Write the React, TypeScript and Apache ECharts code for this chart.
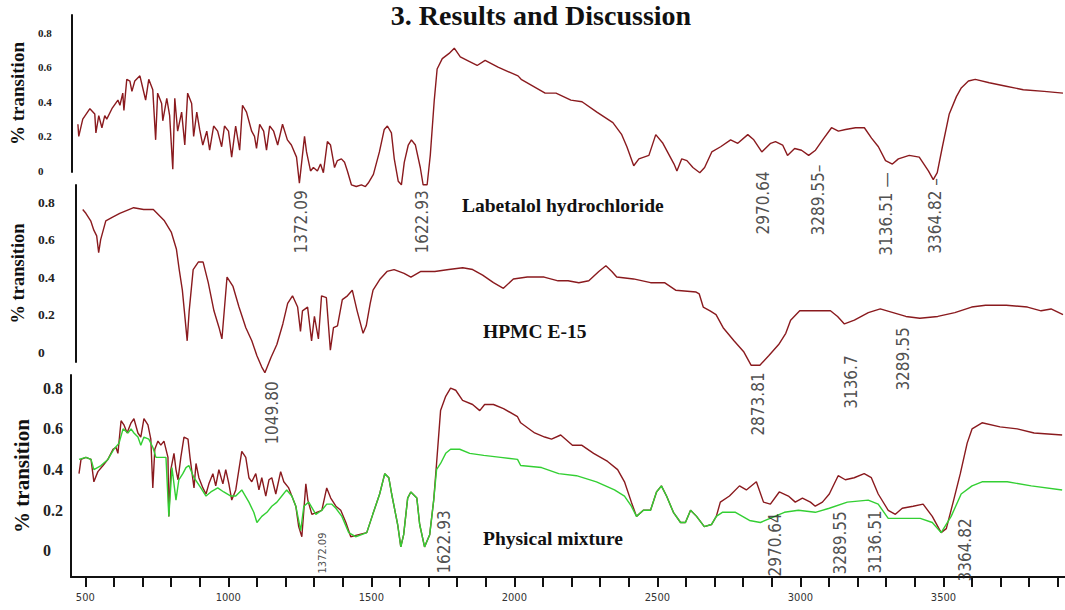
import React, { useEffect, useRef } from "react";
import * as echarts from "echarts";

// ---------- axis ranges & tick labels ----------
const WN_MIN = 450;
const WN_MAX = 3925;
const X_TICKS = [500, 600, 700, 800, 900, 1000, 1100, 1200, 1300, 1400, 1500, 1600, 1700, 1800, 1900, 2000, 2100, 2200, 2300, 2400, 2500, 2600, 2700, 2800, 2900, 3000, 3100, 3200, 3300, 3400, 3500, 3600, 3700, 3800, 3900];
const X_LABELS = [500, 1000, 1500, 2000, 2500, 3000, 3500];
const Y_LABELS = [0, 0.2, 0.4, 0.6, 0.8];
const PANEL_TITLES = ["Labetalol hydrochloride", "HPMC E-15", "Physical mixture"];
const PAGE_TITLE = "3. Results and Discussion";
const Y_NAME = "% transition";

// ---------- spectra: [wavenumber, % transition] ----------
const labetalol: [number, number][] = [
  [471, 0.27], [474, 0.2], [488, 0.3], [513, 0.36], [530, 0.33], [534, 0.22], [544, 0.32], [555, 0.25], [565, 0.32], [572, 0.3],
  [590, 0.36], [611, 0.41], [618, 0.38], [628, 0.45], [632, 0.35], [642, 0.53], [653, 0.52], [660, 0.46], [670, 0.52], [688, 0.55],
  [698, 0.48], [708, 0.41], [719, 0.53], [733, 0.47], [743, 0.18], [750, 0.45], [764, 0.39], [768, 0.29], [782, 0.42], [792, 0.32],
  [803, 0.01], [810, 0.42], [820, 0.23], [834, 0.34], [845, 0.15], [855, 0.45], [869, 0.39], [876, 0.2], [887, 0.34], [897, 0.24],
  [908, 0.15], [922, 0.23], [932, 0.12], [946, 0.26], [960, 0.23], [974, 0.14], [984, 0.26], [998, 0.23], [1009, 0.08], [1023, 0.26],
  [1037, 0.12], [1047, 0.38], [1061, 0.34], [1079, 0.23], [1089, 0.2], [1096, 0.13], [1107, 0.27], [1121, 0.23], [1131, 0.12], [1142, 0.26],
  [1156, 0.23], [1170, 0.15], [1187, 0.27], [1204, 0.18], [1218, 0.15], [1236, 0.08], [1246, -0.07], [1264, 0.2], [1271, 0.11], [1285, 0.0],
  [1295, 0.02], [1309, 0.0], [1320, 0.04], [1330, -0.01], [1344, 0.17], [1355, 0.15], [1369, 0.02], [1379, 0.06], [1393, 0.07], [1404, 0.05],
  [1414, 0.0], [1428, -0.08], [1445, -0.09], [1463, -0.08], [1477, -0.09], [1487, -0.07], [1505, -0.02], [1526, 0.11], [1543, 0.24], [1554, 0.26],
  [1568, 0.22], [1578, 0.07], [1592, -0.06], [1603, -0.08], [1613, 0.05], [1627, 0.15], [1638, 0.18], [1652, 0.15], [1669, 0.02], [1679, -0.08],
  [1693, -0.08], [1704, 0.09], [1718, 0.41], [1728, 0.59], [1746, 0.65], [1770, 0.68], [1788, 0.71], [1809, 0.66], [1833, 0.64], [1868, 0.61],
  [1896, 0.64], [1941, 0.6], [2011, 0.55], [2022, 0.53], [2106, 0.45], [2144, 0.45], [2196, 0.41], [2235, 0.4], [2287, 0.34], [2343, 0.28],
  [2374, 0.21], [2392, 0.14], [2416, 0.03], [2434, 0.07], [2469, 0.09], [2493, 0.21], [2518, 0.16], [2557, 0.04], [2567, 0.0], [2584, 0.07],
  [2602, 0.06], [2623, 0.02], [2647, -0.01], [2664, 0.02], [2689, 0.11], [2720, 0.14], [2755, 0.18], [2780, 0.16], [2815, 0.21], [2836, 0.18],
  [2864, 0.11], [2895, 0.16], [2912, 0.17], [2937, 0.15], [2954, 0.09], [2979, 0.13], [3003, 0.12], [3028, 0.09], [3052, 0.12], [3077, 0.18],
  [3108, 0.25], [3132, 0.23], [3157, 0.24], [3192, 0.25], [3223, 0.25], [3248, 0.19], [3272, 0.14], [3297, 0.06], [3321, 0.04], [3342, 0.07],
  [3380, 0.09], [3415, 0.08], [3447, 0.0], [3464, -0.05], [3478, -0.01], [3496, 0.14], [3520, 0.33], [3545, 0.43], [3562, 0.48], [3587, 0.52],
  [3611, 0.53], [3660, 0.51], [3719, 0.49], [3779, 0.47], [3852, 0.46], [3918, 0.45],
];

const hpmc: [number, number][] = [
  [474, 0.76], [485, 0.74], [502, 0.7], [513, 0.65], [523, 0.62], [530, 0.53], [537, 0.6], [555, 0.7], [579, 0.72], [604, 0.74],
  [653, 0.77], [688, 0.76], [722, 0.76], [761, 0.7], [785, 0.64], [803, 0.55], [813, 0.44], [824, 0.33], [831, 0.22], [841, 0.06],
  [848, 0.22], [862, 0.44], [880, 0.48], [897, 0.48], [915, 0.37], [935, 0.22], [953, 0.13], [963, 0.07], [981, 0.4], [1002, 0.35],
  [1023, 0.24], [1047, 0.13], [1068, 0.06], [1086, -0.02], [1103, -0.08], [1114, -0.11], [1135, -0.03], [1156, 0.04], [1177, 0.15], [1194, 0.26],
  [1211, 0.3], [1229, 0.24], [1239, 0.11], [1246, 0.22], [1264, 0.24], [1278, 0.06], [1288, 0.19], [1302, 0.07], [1313, 0.3], [1330, 0.29],
  [1344, 0.01], [1355, 0.13], [1369, 0.14], [1386, 0.28], [1404, 0.3], [1421, 0.33], [1438, 0.22], [1459, 0.1], [1470, 0.14], [1484, 0.26],
  [1494, 0.33], [1519, 0.39], [1543, 0.43], [1568, 0.44], [1603, 0.42], [1627, 0.4], [1662, 0.43], [1711, 0.43], [1760, 0.44], [1809, 0.45],
  [1844, 0.44], [1879, 0.41], [1917, 0.37], [1952, 0.34], [1987, 0.39], [2036, 0.4], [2095, 0.4], [2144, 0.38], [2179, 0.38], [2217, 0.37],
  [2252, 0.38], [2287, 0.43], [2312, 0.46], [2333, 0.43], [2350, 0.4], [2409, 0.39], [2469, 0.37], [2518, 0.37], [2557, 0.33], [2629, 0.32],
  [2640, 0.31], [2654, 0.24], [2678, 0.22], [2699, 0.2], [2724, 0.13], [2762, 0.06], [2797, 0.0], [2822, -0.07], [2853, -0.07], [2884, -0.02],
  [2919, 0.04], [2944, 0.1], [2961, 0.17], [2993, 0.22], [3052, 0.22], [3101, 0.22], [3126, 0.19], [3150, 0.15], [3185, 0.17], [3234, 0.21],
  [3276, 0.23], [3321, 0.21], [3366, 0.19], [3415, 0.18], [3478, 0.19], [3538, 0.21], [3597, 0.24], [3646, 0.25], [3719, 0.25], [3793, 0.24],
  [3841, 0.22], [3876, 0.23], [3918, 0.2],
];

const mixtureRed: [number, number][] = [
  [478, 0.38], [485, 0.45], [502, 0.46], [520, 0.45], [530, 0.34], [544, 0.39], [562, 0.42], [579, 0.45], [597, 0.5], [607, 0.51],
  [614, 0.48], [625, 0.64], [635, 0.62], [646, 0.58], [660, 0.63], [670, 0.65], [684, 0.58], [694, 0.56], [705, 0.65], [719, 0.62],
  [729, 0.55], [736, 0.31], [743, 0.5], [754, 0.54], [764, 0.52], [775, 0.54], [789, 0.46], [792, 0.17], [799, 0.4], [810, 0.48],
  [817, 0.4], [824, 0.35], [834, 0.46], [845, 0.56], [859, 0.55], [866, 0.46], [880, 0.31], [887, 0.43], [897, 0.36], [911, 0.31],
  [922, 0.28], [932, 0.33], [946, 0.38], [956, 0.32], [967, 0.4], [981, 0.33], [991, 0.4], [1002, 0.33], [1012, 0.25], [1026, 0.3],
  [1037, 0.4], [1047, 0.49], [1061, 0.46], [1072, 0.36], [1082, 0.34], [1096, 0.38], [1107, 0.3], [1117, 0.36], [1131, 0.27], [1142, 0.35],
  [1152, 0.36], [1166, 0.28], [1183, 0.39], [1194, 0.34], [1211, 0.31], [1222, 0.27], [1236, 0.22], [1246, 0.12], [1257, 0.07], [1271, 0.33],
  [1278, 0.25], [1292, 0.18], [1309, 0.19], [1327, 0.2], [1344, 0.31], [1358, 0.26], [1376, 0.22], [1393, 0.2], [1411, 0.14], [1428, 0.07],
  [1456, 0.08], [1484, 0.09], [1505, 0.18], [1529, 0.28], [1547, 0.38], [1561, 0.36], [1571, 0.28], [1592, 0.13], [1603, 0.02], [1613, 0.08],
  [1627, 0.26], [1638, 0.29], [1659, 0.26], [1669, 0.13], [1686, 0.02], [1704, 0.08], [1718, 0.25], [1728, 0.43], [1742, 0.69], [1760, 0.76],
  [1777, 0.8], [1795, 0.79], [1819, 0.74], [1854, 0.72], [1879, 0.69], [1896, 0.72], [1927, 0.72], [1962, 0.7], [2011, 0.66], [2022, 0.63],
  [2071, 0.58], [2106, 0.56], [2130, 0.55], [2162, 0.57], [2203, 0.52], [2235, 0.52], [2277, 0.48], [2326, 0.44], [2361, 0.4], [2385, 0.34],
  [2409, 0.24], [2427, 0.17], [2451, 0.2], [2476, 0.2], [2497, 0.29], [2514, 0.32], [2532, 0.27], [2556, 0.19], [2581, 0.14], [2598, 0.14],
  [2616, 0.2], [2637, 0.17], [2664, 0.12], [2689, 0.13], [2706, 0.17], [2720, 0.24], [2752, 0.27], [2787, 0.32], [2811, 0.3], [2846, 0.34],
  [2871, 0.24], [2895, 0.23], [2926, 0.29], [2958, 0.27], [2982, 0.24], [3007, 0.26], [3035, 0.24], [3052, 0.22], [3077, 0.24], [3101, 0.28],
  [3132, 0.37], [3157, 0.35], [3188, 0.36], [3223, 0.38], [3248, 0.36], [3272, 0.28], [3307, 0.2], [3332, 0.18], [3356, 0.21], [3394, 0.22],
  [3429, 0.23], [3461, 0.17], [3492, 0.09], [3510, 0.11], [3534, 0.24], [3559, 0.38], [3583, 0.53], [3600, 0.6], [3635, 0.63], [3698, 0.61],
  [3758, 0.6], [3817, 0.58], [3915, 0.57],
];

const mixtureGreen: [number, number][] = [
  [478, 0.45], [502, 0.46], [520, 0.45], [530, 0.4], [555, 0.42], [579, 0.45], [600, 0.5], [618, 0.53], [632, 0.6], [649, 0.58],
  [660, 0.6], [670, 0.58], [684, 0.56], [694, 0.52], [705, 0.56], [722, 0.55], [736, 0.51], [747, 0.46], [764, 0.46], [782, 0.46],
  [792, 0.17], [803, 0.41], [817, 0.25], [827, 0.35], [841, 0.38], [852, 0.41], [862, 0.42], [880, 0.36], [904, 0.31], [922, 0.27],
  [939, 0.29], [963, 0.31], [984, 0.29], [1009, 0.27], [1026, 0.27], [1047, 0.3], [1072, 0.24], [1089, 0.19], [1100, 0.14], [1117, 0.17],
  [1135, 0.19], [1152, 0.22], [1170, 0.24], [1187, 0.27], [1204, 0.3], [1222, 0.27], [1236, 0.22], [1253, 0.1], [1264, 0.22], [1281, 0.24],
  [1306, 0.18], [1327, 0.2], [1344, 0.23], [1362, 0.23], [1376, 0.21], [1397, 0.17], [1421, 0.09], [1445, 0.07], [1466, 0.08], [1484, 0.09],
  [1505, 0.18], [1529, 0.28], [1547, 0.38], [1561, 0.36], [1571, 0.28], [1592, 0.13], [1603, 0.02], [1613, 0.08], [1627, 0.26], [1638, 0.29],
  [1659, 0.26], [1669, 0.13], [1686, 0.02], [1704, 0.08], [1718, 0.25], [1728, 0.4], [1742, 0.43], [1760, 0.48], [1777, 0.5], [1809, 0.5],
  [1844, 0.48], [1893, 0.47], [1952, 0.46], [2011, 0.45], [2022, 0.42], [2095, 0.41], [2155, 0.38], [2217, 0.37], [2287, 0.34], [2350, 0.3],
  [2385, 0.27], [2409, 0.22], [2427, 0.17], [2451, 0.2], [2476, 0.2], [2497, 0.29], [2514, 0.32], [2532, 0.27], [2556, 0.19], [2581, 0.14],
  [2598, 0.14], [2616, 0.2], [2637, 0.17], [2664, 0.12], [2689, 0.13], [2706, 0.17], [2727, 0.19], [2773, 0.19], [2822, 0.15], [2860, 0.14],
  [2944, 0.19], [2993, 0.2], [3052, 0.19], [3101, 0.21], [3164, 0.24], [3237, 0.25], [3272, 0.23], [3307, 0.16], [3356, 0.16], [3419, 0.16],
  [3461, 0.14], [3492, 0.09], [3527, 0.17], [3562, 0.28], [3600, 0.32], [3635, 0.34], [3723, 0.34], [3807, 0.32], [3915, 0.3],
];

// ---------- peak annotations (wavenumber / % transition position, text) ----------
type Peak = { wn: number; t: number; text: string; small?: boolean };
const labetalolPeaks: Peak[] = [
  { wn: 1253, t: -0.295, text: "1372.09" },
  { wn: 1676, t: -0.295, text: "1622.93" },
  { wn: 2867, t: -0.185, text: "2970.64" },
  { wn: 3059, t: -0.168, text: "3289.55–" },
  { wn: 3300, t: -0.249, text: "3136.51 —" },
  { wn: 3471, t: -0.26, text: "3364.82 –" },
];
const hpmcPeaks: Peak[] = [
  { wn: 1138, t: -0.325, text: "1049.80" },
  { wn: 2846, t: -0.277, text: "2873.81" },
  { wn: 3174, t: -0.16, text: "3136.7" },
  { wn: 3356, t: -0.037, text: "3289.55" },
];
const mixturePeaks: Peak[] = [
  { wn: 1330, t: -0.01, text: "1372.09", small: true },
  { wn: 1755, t: 0.044, text: "1622.93" },
  { wn: 2912, t: 0.03, text: "2970.64" },
  { wn: 3139, t: 0.04, text: "3289.55" },
  { wn: 3262, t: 0.044, text: "3136.51" },
  { wn: 3576, t: 0.005, text: "3364.82" },
];

// ---------- styling ----------
const SERIF = '"Liberation Serif", "Times New Roman", serif';
const NARROW = '"Liberation Sans Narrow", "Arial Narrow", "DejaVu Sans Condensed", "Liberation Sans", sans-serif';
const RED = "#8a1a1e";
const GREEN = "#33cf33";
const INK = "#111";

const PANELS = [
  { top: 15, height: 157, min: -0.006, max: 0.902, labelSize: 11, labelMargin: 34, nameSize: 19, nameGap: 44 },
  { top: 185, height: 177, min: -0.053, max: 0.891, labelSize: 13.5, labelMargin: 38, nameSize: 18.5, nameGap: 47 },
  { top: 375, height: 202, min: -0.128, max: 0.865, labelSize: 16, labelMargin: 28, nameSize: 21, nameGap: 37 },
];

function peakSeries(idx: number, peaks: Peak[]) {
  return {
    type: "scatter",
    xAxisIndex: idx,
    yAxisIndex: idx,
    symbolSize: 1,
    clip: false,
    silent: true,
    z: 5,
    itemStyle: { color: "rgba(0,0,0,0)" },
    label: {
      show: true,
      position: "inside",
      rotate: 90,
      formatter: "{b}",
      fontFamily: NARROW,
      fontSize: 17,
      color: "#222",
    },
    data: peaks.map((p) => ({
      name: p.text,
      value: [p.wn, p.t],
      label: p.small ? { fontSize: 11 } : undefined,
    })),
  };
}

function lineSeries(idx: number, data: [number, number][], color: string, z: number) {
  return {
    type: "line",
    xAxisIndex: idx,
    yAxisIndex: idx,
    data,
    symbol: "none",
    clip: false,
    silent: true,
    z,
    lineStyle: { color, width: 1.4 },
  };
}

export default function App() {
  const ref = useRef<HTMLDivElement>(null);

  useEffect(() => {
    if (!ref.current) return;
    const chart = echarts.init(ref.current, null, { renderer: "svg" });

    const grids = PANELS.map((p) => ({ left: 71, top: p.top, width: 995, height: p.height }));

    const xAxes = PANELS.map((_, i) =>
      i < 2
        ? { type: "value", gridIndex: i, min: WN_MIN, max: WN_MAX, show: false }
        : {
            type: "value",
            gridIndex: i,
            min: WN_MIN,
            max: WN_MAX,
            axisLine: { show: true, onZero: false, lineStyle: { color: INK, width: 2 } },
            axisTick: { show: true, customValues: X_TICKS, length: 10, lineStyle: { color: INK, width: 2 } },
            axisLabel: {
              customValues: X_LABELS,
              formatter: (v: number) => String(v),
              margin: 15,
              fontSize: 11,
              fontFamily: NARROW,
              color: "#333",
            },
            splitLine: { show: false },
          }
    );

    const yAxes = PANELS.map((p, i) => ({
      type: "value",
      gridIndex: i,
      min: p.min,
      max: p.max,
      axisLine: { show: true, onZero: false, lineStyle: { color: INK, width: 2 } },
      axisTick: { show: false },
      splitLine: { show: false },
      axisLabel: {
        customValues: Y_LABELS,
        formatter: (v: number) => (v === 0 ? "0" : v.toFixed(1)),
        align: "left",
        margin: p.labelMargin,
        fontFamily: SERIF,
        fontWeight: "bold",
        fontSize: p.labelSize,
        color: "#222",
      },
      name: Y_NAME,
      nameLocation: "middle",
      nameRotate: 90,
      nameGap: p.nameGap,
      nameTextStyle: { fontFamily: SERIF, fontWeight: "bold", fontSize: p.nameSize, color: INK },
    }));

    const titleText = (text: string, x: number, y: number, size: number, align = "left") => ({
      type: "text",
      x,
      y,
      silent: true,
      style: {
        text,
        font: `bold ${size}px ${SERIF}`,
        fill: INK,
        align,
        textAlign: align,
        verticalAlign: "middle",
        textVerticalAlign: "middle",
      },
    });

    chart.setOption({
      animation: false,
      backgroundColor: "#ffffff",
      grid: grids,
      xAxis: xAxes,
      yAxis: yAxes,
      graphic: [
        titleText(PAGE_TITLE, 541, 15, 28, "center"),
        titleText(PANEL_TITLES[0], 462, 205, 19.5),
        titleText(PANEL_TITLES[1], 483, 331, 19.5),
        titleText(PANEL_TITLES[2], 483, 538, 19.5),
      ],
      series: [
        lineSeries(0, labetalol, RED, 2),
        lineSeries(1, hpmc, RED, 2),
        lineSeries(2, mixtureRed, RED, 2),
        lineSeries(2, mixtureGreen, GREEN, 3),
        peakSeries(0, labetalolPeaks),
        peakSeries(1, hpmcPeaks),
        peakSeries(2, mixturePeaks),
      ],
    });

    return () => chart.dispose();
  }, []);

  return (
    <div
      ref={ref}
      style={{ position: "fixed", left: 0, top: 0, width: 1065, height: 610, background: "#fff" }}
    />
  );
}
